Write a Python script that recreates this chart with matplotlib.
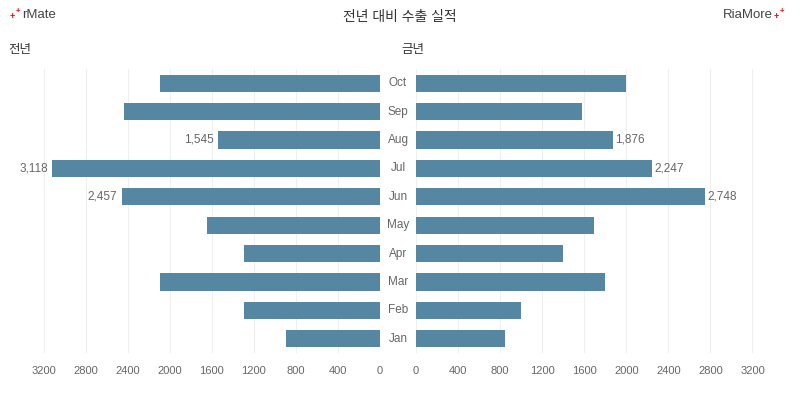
import matplotlib
matplotlib.use("Agg")
import matplotlib.pyplot as plt

plt.rcParams['font.family'] = ['Liberation Sans', 'Noto Sans CJK KR', 'DejaVu Sans']

months = ["Jan", "Feb", "Mar", "Apr", "May", "Jun", "Jul", "Aug", "Sep", "Oct"]
prev_year = [893, 1292, 2090, 1292, 1644, 2457, 3118, 1545, 2432, 2090]
this_year = [848, 1000, 1800, 1400, 1695, 2748, 2247, 1876, 1581, 2000]
prev_labeled = ["Jun", "Jul", "Aug"]
this_labeled = ["Jun", "Jul", "Aug"]
ticks = [0, 400, 800, 1200, 1600, 2000, 2400, 2800, 3200]

bar_color = "#5587a2"
text_gray = "#666666"
grid_color = "#efefef"
xmax = 3500

fig = plt.figure(figsize=(8, 4), dpi=100)
W, H = 800, 400
def rect(x0, y0, x1, y1):
    return [x0 / W, 1 - y1 / H, (x1 - x0) / W, (y1 - y0) / H]

axL = fig.add_axes(rect(12, 69, 380, 353))
axR = fig.add_axes(rect(416, 69, 784, 353))

ypos = list(range(len(months)))
for ax, vals, lab in ((axL, prev_year, prev_labeled), (axR, this_year, this_labeled)):
    ax.barh(ypos, vals, height=0.6, color=bar_color, zorder=2)
    ax.set_xlim(0, xmax)
    ax.set_ylim(-0.5, len(months) - 0.5)
    ax.set_xticks(ticks)
    ax.set_xticklabels([str(t) for t in ticks], fontsize=8, color=text_gray)
    ax.tick_params(axis='x', length=0, pad=9)
    ax.set_yticks([])
    for s in ax.spines.values():
        s.set_visible(False)
    for t in ticks:
        ax.axvline(t, color=grid_color, lw=0.8, zorder=0)
    off = 40 if ax is axL else 20
    for i, (m, v) in enumerate(zip(months, vals)):
        if m in lab:
            ha = 'right' if ax is axL else 'left'
            ax.text(v + off, i, f"{v:,}", ha=ha, va='center', fontsize=8.5,
                    color=text_gray, zorder=3)

axL.invert_xaxis()

# month labels in centre
for i, m in enumerate(months):
    y = 353 - (i + 0.5) * (353 - 69) / len(months)
    fig.text(398 / W, 1 - y / H, m, ha='center', va='center', fontsize=8.5,
             color=text_gray)

fig.text(400 / W, 1 - 17 / H, "전년 대비 수출 실적", ha='center', va='center',
         fontsize=10, color="#333333")
fig.text(8 / W, 1 - 50 / H, "전년", ha='left', va='center', fontsize=9,
         color="#333333")
fig.text(401 / W, 1 - 50 / H, "금년", ha='left', va='center', fontsize=9,
         color="#333333")

# logos
fig.text(10 / W, 1 - 17 / H, "+", ha='left', va='center', fontsize=6.5, color="red",
         fontweight='bold')
fig.text(16 / W, 1 - 12 / H, "+", ha='left', va='center', fontsize=5.5, color="red",
         fontweight='bold')
fig.text(22 / W, 1 - 15 / H, "rMate", ha='left', va='center', fontsize=9.5, color="#444444")
fig.text(773 / W, 1 - 15 / H, "RiaMore", ha='right', va='center', fontsize=9.5, color="#444444")
fig.text(774 / W, 1 - 17 / H, "+", ha='left', va='center', fontsize=6.5, color="red",
         fontweight='bold')
fig.text(780 / W, 1 - 12 / H, "+", ha='left', va='center', fontsize=5.5, color="red",
         fontweight='bold')

fig.savefig("out.png", dpi=100)
